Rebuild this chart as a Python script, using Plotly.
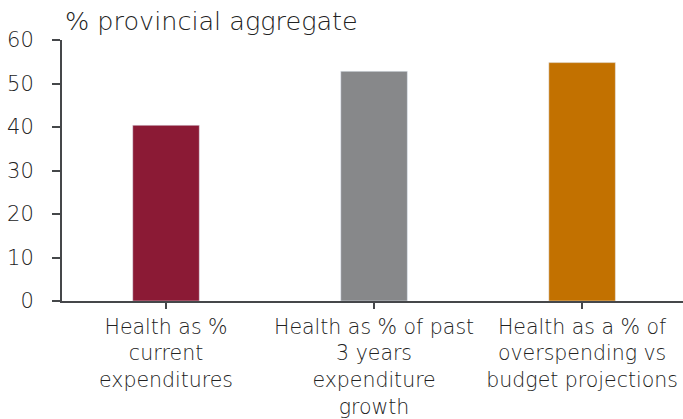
import plotly.graph_objects as go

categories = ["Health as %<br>current<br>expenditures",
              "Health as % of past<br>3 years<br>expenditure<br>growth",
              "Health as a % of<br>overspending vs<br>budget projections"]
values = [40.4, 52.8, 54.8]
colors = ["#8B1A35", "#87888A", "#C27100"]
y_ticks = [0, 10, 20, 30, 40, 50, 60]

FONT = "DejaVu Sans"
TXT = "#222222"
AX = "#45474a"

fig = go.Figure(go.Bar(x=[0, 1, 2], y=values, marker_color=colors, width=0.32))

fig.update_layout(
    width=683, height=419,
    margin=dict(l=62, r=0, t=40, b=118, autoexpand=False),
    plot_bgcolor="white", paper_bgcolor="white",
    showlegend=False,
    font=dict(family=FONT, size=20, color=TXT, weight=300),
    title=dict(text="% provincial aggregate", x=65/683, xref="container", xanchor="left",
               y=1 - 21/419, yref="container", yanchor="middle",
               font=dict(family=FONT, size=25.5, color=TXT, weight=300)),
)
fig.update_xaxes(
    range=[-0.5, 2.485], tickmode="array", tickvals=[0, 1, 2], ticktext=categories,
    showline=True, linecolor=AX, linewidth=2, ticks="outside", tickson="boundaries",
    ticklen=6, tickwidth=2, tickcolor=AX, showgrid=False, zeroline=False,
    tickfont=dict(family=FONT, size=20.5, color=TXT, weight=300), tickangle=0,
    ticklabelstandoff=0, automargin=False,
)
fig.update_yaxes(
    range=[0, 60], tickvals=y_ticks, showline=True, linecolor=AX, linewidth=2,
    ticks="outside", ticklen=8, tickwidth=2, tickcolor=AX, showgrid=False, zeroline=False,
    tickfont=dict(family=FONT, size=21, color=TXT, weight=300), ticklabelstandoff=14,
    automargin=False,
)

fig.write_html("out.html")
